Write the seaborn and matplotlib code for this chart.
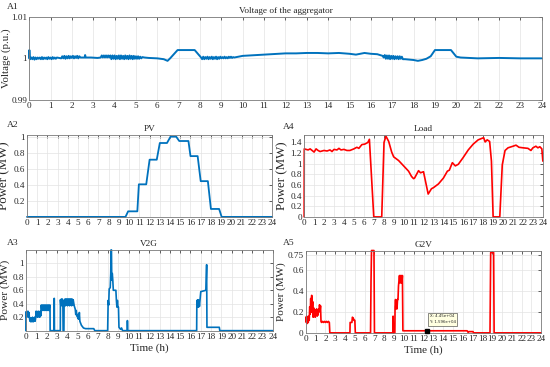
import numpy as np
import pandas as pd
import matplotlib
matplotlib.use("Agg")
import matplotlib.pyplot as plt
import seaborn as sns

# ---- data: (time in h, value) ----
hours = list(range(0, 25))

# A1 voltage of the aggregator (p.u.)
volt_pts = [
    (0.00, 1.0000), (0.01, 1.0020), (0.03, 1.0001),
    (0.05, 0.9998), (0.10, 1.0002), (0.15, 0.9998), (0.20, 1.0003), (0.25, 0.9997), (0.30, 1.0002),
    (0.35, 0.9998), (0.40, 1.0002), (0.45, 0.9999), (0.50, 1.0002), (0.55, 0.9998), (0.60, 1.0003),
    (0.65, 0.9998), (0.70, 1.0002), (0.75, 0.9999), (0.80, 1.0002), (0.85, 0.9998), (0.90, 1.0003),
    (0.95, 0.9999), (1.00, 1.0002), (1.05, 0.9998), (1.10, 1.0003), (1.15, 0.9999), (1.20, 1.0002),
    (1.25, 0.9999), (1.30, 1.0002), (1.40, 1.0001), (1.50, 1.0000),
    (1.55, 1.0005), (1.60, 1.0000), (1.65, 1.0006), (1.70, 0.9999), (1.75, 1.0005), (1.80, 1.0000),
    (1.85, 1.0006), (1.90, 1.0000), (1.95, 1.0005), (2.00, 1.0001), (2.05, 1.0006), (2.10, 1.0000),
    (2.15, 1.0005), (2.20, 1.0001), (2.25, 1.0006), (2.30, 1.0000), (2.35, 1.0005), (2.40, 1.0002),
    (2.55, 1.0002), (2.60, 1.0002), (2.62, 1.0008), (2.65, 1.0002), (2.90, 1.0002), (3.20, 1.0001),
    (3.35, 1.0002), (3.40, 1.0007), (3.45, 1.0002), (3.50, 1.0007), (3.55, 1.0002), (3.60, 1.0007),
    (3.65, 1.0002), (3.70, 1.0007), (3.75, 1.0002), (3.80, 1.0007), (3.85, 0.9998), (3.90, 1.0007),
    (3.95, 0.9999), (4.00, 1.0007), (4.05, 0.9998), (4.10, 1.0006), (4.15, 0.9999), (4.20, 1.0007),
    (4.25, 0.9998), (4.30, 1.0007), (4.35, 0.9999), (4.40, 1.0006), (4.45, 0.9998), (4.50, 1.0007),
    (4.55, 0.9999), (4.60, 1.0006), (4.65, 0.9998), (4.70, 1.0007), (4.75, 0.9999), (4.80, 1.0006),
    (4.85, 0.9998), (4.90, 1.0006), (4.95, 0.9999), (5.00, 1.0005), (5.05, 0.9999), (5.10, 1.0005),
    (5.15, 0.9999), (5.20, 1.0004), (5.25, 1.0000), (5.30, 1.0003), (5.40, 1.0002), (5.60, 1.0001),
    (6.00, 1.0000), (6.30, 0.9998), (6.48, 0.9994), (6.60, 1.0000), (6.95, 1.0020), (7.75, 1.0020),
    (8.05, 1.0002),
    (8.10, 0.9998), (8.15, 1.0004), (8.20, 0.9998), (8.25, 1.0003), (8.30, 0.9999), (8.35, 1.0004),
    (8.40, 0.9998), (8.45, 1.0003), (8.50, 0.9999), (8.55, 1.0004), (8.60, 0.9998), (8.65, 1.0003),
    (8.70, 0.9999), (8.75, 1.0004), (8.80, 0.9998), (8.85, 1.0003), (8.90, 0.9999), (8.95, 1.0004),
    (9.00, 1.0000), (9.05, 1.0003), (9.10, 1.0000), (9.15, 1.0004), (9.20, 1.0000), (9.25, 1.0003),
    (9.30, 1.0000), (9.35, 1.0004), (9.40, 1.0001), (9.45, 1.0004), (9.50, 1.0001), (9.55, 1.0003),
    (9.60, 1.0002), (9.70, 1.0003), (9.80, 1.0004),
    (10.0, 1.0006), (11.0, 1.0009), (12.0, 1.0012), (12.5, 1.0012), (13.0, 1.0013), (13.5, 1.0013),
    (14.0, 1.0012), (14.5, 1.0013), (15.0, 1.0011), (15.3, 1.0009), (15.7, 1.0013), (16.0, 1.0011),
    (16.3, 1.0010), (16.55, 1.0006),
    (16.60, 1.0002), (16.65, 1.0008), (16.70, 0.9999), (16.75, 1.0007), (16.80, 0.9999), (16.85, 1.0007),
    (16.90, 0.9998), (16.95, 1.0006), (17.00, 0.9999), (17.05, 1.0006), (17.10, 0.9998), (17.15, 1.0005),
    (17.20, 0.9999), (17.25, 1.0005), (17.30, 0.9998), (17.35, 1.0005), (17.40, 0.9999), (17.45, 1.0004),
    (17.50, 0.9998),
    (17.60, 0.9998), (17.80, 0.9997), (18.00, 0.9996), (18.20, 0.9994), (18.40, 0.9996), (18.60, 0.9999),
    (18.80, 1.0005), (19.00, 1.0020), (19.75, 1.0020), (20.00, 1.0004), (20.20, 1.0002), (21.0, 1.0000),
    (22.0, 1.0001), (23.0, 1.0000), (24.0, 1.0000),
]

# A2 PV (MW)
pv_pts = [
    (0, 0), (9.64, 0), (9.9, 0.07), (10.8, 0.07), (10.95, 0.41), (11.67, 0.41), (12.0, 0.72),
    (12.7, 0.72), (13.0, 0.93), (13.7, 0.93), (14.05, 1.01), (14.6, 1.01), (14.9, 0.955),
    (15.8, 0.955), (16.0, 0.765), (16.7, 0.765), (17.0, 0.45), (17.7, 0.45), (18.0, 0.1),
    (18.8, 0.1), (19.05, 0), (24, 0),
]

# A4 Load (MW)
load_pts = [
    (0, 0), (0.01, 1.28), (0.2, 1.27), (0.4, 1.26), (0.6, 1.28), (0.8, 1.25), (1.0, 1.22),
    (1.2, 1.28), (1.4, 1.25), (1.6, 1.23), (1.8, 1.24), (2.0, 1.25), (2.3, 1.24), (2.6, 1.26),
    (2.8, 1.23), (3.0, 1.27), (3.3, 1.26), (3.5, 1.29), (3.7, 1.26), (4.0, 1.27), (4.3, 1.25),
    (4.6, 1.25), (5.0, 1.28), (5.3, 1.31), (5.5, 1.29), (5.8, 1.36), (6.1, 1.37), (6.4, 1.40),
    (6.56, 1.46), (7.0, 0.0), (7.8, 0.0), (8.03, 1.40), (8.22, 1.52), (8.5, 1.42), (8.8, 1.22),
    (9.0, 1.13), (9.5, 1.06), (10.0, 0.96), (10.5, 0.86), (10.8, 0.76), (11.0, 0.72), (11.1, 0.73),
    (11.5, 0.87), (11.7, 0.83), (12.0, 0.85), (12.47, 0.43), (12.8, 0.53), (13.0, 0.55),
    (13.5, 0.62), (14.0, 0.73), (14.4, 0.86), (14.6, 0.88), (14.9, 1.02), (15.2, 0.96),
    (15.5, 0.99), (16.0, 1.12), (16.5, 1.26), (17.0, 1.37), (17.5, 1.45), (17.9, 1.48),
    (18.05, 1.49), (18.2, 1.41), (18.4, 1.45), (18.65, 1.42), (18.83, 1.05), (19.0, 0.0),
    (19.67, 0.0), (19.92, 0.98), (20.2, 1.25), (20.5, 1.30), (21.0, 1.33), (21.3, 1.35),
    (21.6, 1.31), (22.0, 1.30), (22.5, 1.29), (22.8, 1.25), (23.0, 1.30), (23.3, 1.33),
    (23.5, 1.30), (23.7, 1.32), (23.9, 1.28), (24.0, 1.05),
]

# A3 V2G (MW)
v2g_pts = [
    (0.00, 0.00), (0.01, 0.28), (0.05, 0.20), (0.10, 0.28), (0.15, 0.21), (0.20, 0.29), (0.25, 0.20),
    (0.30, 0.27), (0.35, 0.19), (0.40, 0.14), (0.45, 0.19), (0.50, 0.13), (0.55, 0.19), (0.60, 0.14),
    (0.65, 0.20), (0.70, 0.13), (0.75, 0.19), (0.80, 0.14), (0.85, 0.20), (0.90, 0.14), (0.95, 0.19),
    (1.00, 0.29), (1.05, 0.21), (1.10, 0.28), (1.15, 0.20), (1.20, 0.29), (1.25, 0.21), (1.30, 0.28),
    (1.35, 0.20), (1.40, 0.29), (1.45, 0.22),
    (1.50, 0.38), (1.55, 0.31), (1.60, 0.38), (1.65, 0.30), (1.70, 0.38), (1.75, 0.31), (1.80, 0.38),
    (1.85, 0.30), (1.90, 0.38), (1.95, 0.31), (2.00, 0.38), (2.05, 0.30), (2.10, 0.38), (2.15, 0.31),
    (2.20, 0.38), (2.25, 0.30), (2.30, 0.38), (2.35, 0.38), (2.36, 0.00),
    (2.75, 0.00), (2.76, 0.48), (2.78, 0.00),
    (3.35, 0.00), (3.36, 0.46), (3.40, 0.38), (3.45, 0.47), (3.50, 0.37), (3.55, 0.47), (3.60, 0.38),
    (3.62, 0.00), (3.70, 0.00), (3.72, 0.45),
    (3.75, 0.37), (3.80, 0.47), (3.85, 0.37), (3.90, 0.47), (3.95, 0.38), (4.00, 0.47), (4.05, 0.37),
    (4.10, 0.47), (4.15, 0.38), (4.20, 0.47), (4.25, 0.37), (4.30, 0.47), (4.35, 0.38), (4.40, 0.47),
    (4.45, 0.37), (4.50, 0.47), (4.55, 0.38), (4.60, 0.46), (4.70, 0.37), (4.80, 0.32), (4.85, 0.24),
    (4.90, 0.30), (4.95, 0.22), (5.00, 0.24), (5.05, 0.18), (5.10, 0.20), (5.15, 0.17), (5.20, 0.27),
    (5.25, 0.14), (5.40, 0.08), (5.60, 0.04), (5.80, 0.03), (6.60, 0.03), (6.70, 0.00),
    (7.95, 0.00), (8.00, 0.45), (8.05, 0.38), (8.10, 0.62), (8.20, 0.64), (8.25, 0.85), (8.28, 1.20),
    (8.32, 1.20), (8.35, 0.75), (8.40, 0.85), (8.45, 0.75), (8.50, 0.60), (8.75, 0.60), (8.80, 0.45),
    (8.85, 0.35), (8.90, 0.45), (8.95, 0.35), (9.00, 0.35), (9.05, 0.05), (9.20, 0.02), (9.30, 0.04),
    (9.40, 0.00),
    (9.85, 0.00), (9.87, 0.15), (9.90, 0.00),
    (16.60, 0.00), (16.62, 0.45), (16.67, 0.35), (16.72, 0.46), (16.77, 0.35), (16.82, 0.45),
    (16.87, 0.36), (16.92, 0.45), (17.00, 0.58), (17.50, 0.60), (17.57, 0.98), (17.60, 0.05),
    (18.80, 0.05), (18.85, 0.00), (24.00, 0.00),
]

# A5 G2V (MW)
g2v_pts = [
    (0.00, 0.15), (0.05, 0.10), (0.10, 0.16), (0.15, 0.09), (0.20, 0.15), (0.25, 0.10), (0.30, 0.16),
    (0.35, 0.12), (0.40, 0.25), (0.45, 0.18), (0.50, 0.33), (0.55, 0.20), (0.60, 0.36), (0.65, 0.20),
    (0.70, 0.30), (0.75, 0.15), (0.80, 0.24), (0.85, 0.16), (0.90, 0.22), (0.95, 0.15), (1.00, 0.22),
    (1.05, 0.17), (1.10, 0.23), (1.15, 0.16), (1.20, 0.22), (1.25, 0.17), (1.30, 0.23), (1.35, 0.20),
    (1.40, 0.27), (1.45, 0.21), (1.50, 0.26), (1.55, 0.11), (1.60, 0.10), (1.70, 0.11), (1.80, 0.10),
    (1.90, 0.11), (2.00, 0.10), (2.10, 0.11), (2.20, 0.10), (2.30, 0.11), (2.40, 0.10), (2.45, 0.00),
    (4.50, 0.00), (4.52, 0.10), (4.70, 0.10), (4.75, 0.15), (4.85, 0.14), (4.90, 0.12), (5.00, 0.12),
    (5.05, 0.00),
    (6.60, 0.00), (6.65, 0.50), (6.70, 0.79), (6.95, 0.79), (7.00, 0.00),
    (8.88, 0.00), (8.90, 0.16), (8.94, 0.00), (9.08, 0.00), (9.10, 0.25), (9.15, 0.32), (9.20, 0.23),
    (9.25, 0.31), (9.30, 0.23), (9.35, 0.32), (9.40, 0.32), (9.45, 0.45), (9.55, 0.55), (9.60, 0.48),
    (9.65, 0.55), (9.70, 0.48), (9.75, 0.55), (9.80, 0.48), (9.85, 0.55), (9.90, 0.02),
    (16.45, 0.02), (16.55, 0.005), (16.60, 0.012), (17.05, 0.012), (17.10, 0.00), (18.78, 0.00),
    (18.85, 0.77), (19.15, 0.77), (19.20, 0.00), (24.00, 0.00),
]

# data tip shown on G2V
tip_t = 12.4
tip_v = 0.015
tip_text = "X: 4.45e+04\nY: 1.596e+04"

BLUE = "#0072BD"
RED = "#FF0000"

sns.set_style("whitegrid")
plt.rcParams["font.family"] = ["Liberation Serif", "DejaVu Serif"]

fig = plt.figure(figsize=(5.5, 3.67), dpi=100)


def to_df(pts):
    return pd.DataFrame(pts, columns=["t", "v"])


def style_axes(ax, yticks, ylim, ylabel, ylab_size, ylab_x, xlabel=None):
    ax.set_xlim(0, 24)
    ax.set_ylim(*ylim)
    ax.set_xticks(hours)
    ax.set_xticklabels([str(h) for h in hours])
    ax.set_yticks(yticks)
    ax.set_yticklabels([f"{v:g}" for v in yticks])
    ax.tick_params(axis="both", direction="in", length=2, width=0.5, labelsize=6.6,
                   top=True, right=True, pad=1.5, colors="#262626")
    ax.grid(True, color="#e3e3e3", lw=0.5)
    for s in ax.spines.values():
        s.set_color("#7a7a7a")
        s.set_linewidth(0.6)
    ax.set_ylabel(ylabel, fontsize=ylab_size)
    ax.yaxis.set_label_coords(ylab_x, 0.5)
    ax.set_xlabel(xlabel if xlabel else "", fontsize=8, labelpad=2)


def draw(ax, pts, color, lw):
    d = to_df(pts)
    sns.lineplot(data=d, x="t", y="v", ax=ax, estimator=None, sort=False, color=color, lw=lw)


TITLE_FS = 6.7

# A1
ax1 = fig.add_axes([0.053, 0.728, 0.932, 0.226])
draw(ax1, volt_pts, BLUE, 1.4)
style_axes(ax1, [0.99, 1.0, 1.01], (0.99, 1.01), "Voltage (p.u.)", 7.8, -0.035)
ax1.set_title("Voltage of the aggregator", fontsize=TITLE_FS, pad=3)

# A2
ax2 = fig.add_axes([0.049, 0.409, 0.446, 0.223])
draw(ax2, pv_pts, BLUE, 1.3)
style_axes(ax2, [0.2, 0.4, 0.6, 0.8, 1.0], (0, 1.03), "Power (MW)", 9.3, -0.066)
ax2.set_title("PV", fontsize=TITLE_FS, pad=3)

# A4
ax4 = fig.add_axes([0.553, 0.409, 0.434, 0.223])
draw(ax4, load_pts, RED, 1.2)
style_axes(ax4, [0, 0.2, 0.4, 0.6, 0.8, 1.0, 1.2, 1.4], (0, 1.54), "Power (MW)", 9.3, -0.066)
ax4.set_title("Load", fontsize=TITLE_FS, pad=3)

# A3
ax3 = fig.add_axes([0.047, 0.099, 0.449, 0.220])
draw(ax3, v2g_pts, BLUE, 1.2)
style_axes(ax3, [0.2, 0.4, 0.6, 0.8, 1.0], (0, 1.2), "Power (MW)", 8.2, -0.064, "Time (h)")
ax3.set_title("V2G", fontsize=TITLE_FS, pad=3)

# A5
ax5 = fig.add_axes([0.556, 0.093, 0.428, 0.223])
draw(ax5, g2v_pts, RED, 1.2)
style_axes(ax5, [0, 0.2, 0.4, 0.6, 0.75], (0, 0.785), "Power (MW)", 8.0, -0.085, "Time (h)")
ax5.set_title("G2V", fontsize=TITLE_FS, pad=3)
ax5.plot([tip_t], [tip_v], marker="s", ms=2.5, color="black", zorder=5, clip_on=False)
ax5.text(tip_t + 0.25, tip_v + 0.07, tip_text, fontsize=2.8, family="DejaVu Sans",
         va="bottom", ha="left", linespacing=1.6,
         bbox=dict(boxstyle="square,pad=0.4", fc="#ffffe1", ec="#333333", lw=0.4))

for ax in [ax1, ax2, ax3, ax4, ax5]:
    for ln in ax.get_lines():
        ln.set_clip_on(False)

# panel tags
fig.text(7 / 550, 1 - 7 / 367, "A1", fontsize=6.8, va="center", ha="left")
fig.text(7 / 550, 1 - 125 / 367, "A2", fontsize=6.8, va="center", ha="left")
fig.text(283 / 550, 1 - 127 / 367, "A4", fontsize=6.8, va="center", ha="left")
fig.text(7 / 550, 1 - 243 / 367, "A3", fontsize=6.8, va="center", ha="left")
fig.text(283 / 550, 1 - 243 / 367, "A5", fontsize=6.8, va="center", ha="left")

fig.savefig("out.png", dpi=100)
